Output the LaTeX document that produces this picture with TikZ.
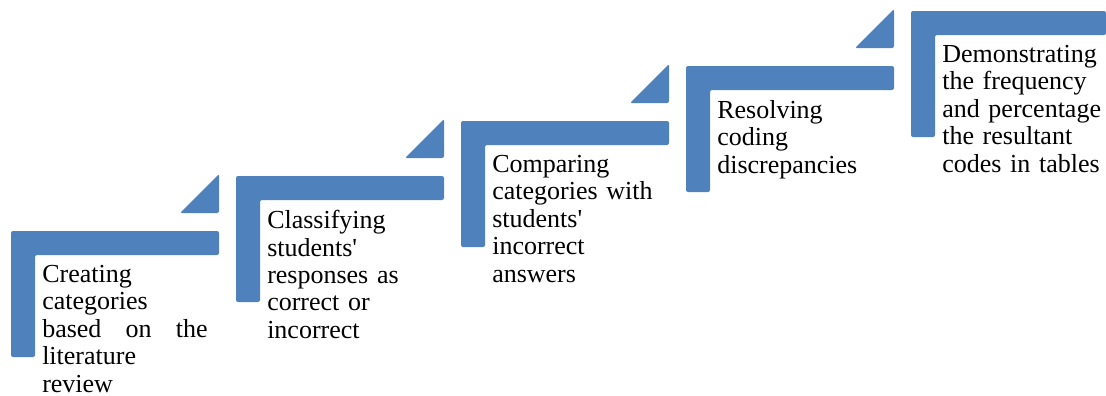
\documentclass[tikz,border=0pt]{standalone}
\usepackage{fontspec}
\setmainfont{Liberation Serif}
\usetikzlibrary{positioning}
\definecolor{stepblue}{RGB}{79,129,189}
\tikzset{
  stepbar/.style={fill=stepblue,draw=none,rounded corners=1.5pt},
  steptext/.style={anchor=north west,inner sep=0pt,text width=125pt,align=left,
    font=\fontsize{19.5}{20.6}\selectfont}
}

\begin{document}
\begin{tikzpicture}[x=0.75pt,y=-0.75pt]
\useasboundingbox (0,0) rectangle (1106,396);
% step 1
\fill[stepbar] (11,231) -- (219,231) -- (219,255) -- (35,255) -- (35,357) -- (11,357) -- cycle;
\fill[stepbar] (180,213) -- (219,174) -- (219,213) -- cycle;
\node[steptext] (s1) at (42,265) {Creating\\categories\\\leavevmode\hbox to 124pt{based\hfill on\hfill the}\\literature\\review};
% step 2
\fill[stepbar] (236,176) -- (444,176) -- (444,200) -- (260,200) -- (260,302) -- (236,302) -- cycle;
\fill[stepbar] (405,158) -- (444,119) -- (444,158) -- cycle;
\node[steptext] (s2) at (267,210) {Classifying\\students\textquotesingle\\responses as\\correct or\\incorrect};
% step 3
\fill[stepbar] (461,121) -- (669,121) -- (669,145) -- (485,145) -- (485,247) -- (461,247) -- cycle;
\fill[stepbar] (630,103) -- (669,64) -- (669,103) -- cycle;
\node[steptext] (s3) at (492,155) {Comparing\\categories with\\students\textquotesingle\\incorrect\\answers};
% step 4
\fill[stepbar] (686,66) -- (894,66) -- (894,90) -- (710,90) -- (710,192) -- (686,192) -- cycle;
\fill[stepbar] (855,48) -- (894,9) -- (894,48) -- cycle;
\node[steptext] (s4) at (717,100) {Resolving\\coding\\discrepancies};
% step 5
\fill[stepbar] (911,11) -- (1106,11) -- (1106,35) -- (935,35) -- (935,137) -- (911,137) -- cycle;
\node[steptext] (s5) at (942,45) {Demonstrating\\the frequency\\and percentage\\the resultant\\codes in tables};
\end{tikzpicture}
\end{document}
